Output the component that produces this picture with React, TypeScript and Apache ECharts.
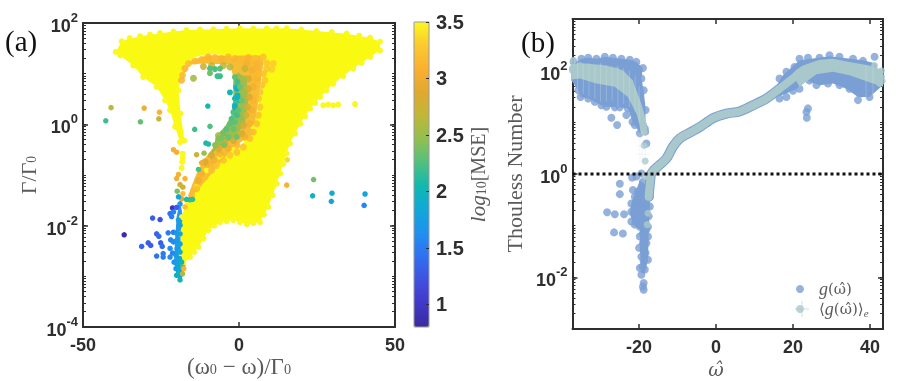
import React, { useEffect, useRef } from "react";
import * as echarts from "echarts";

// ---------- Panel (a): [x, log10(y), log10(MSE)] ----------
const yellowOutline = [
  [-39.5,1.43],[-37.6,1.64],[-31.7,1.74],[-25.3,1.8],[-16.8,1.86],[-8.2,1.875],[0.3,1.895],[8.9,1.89],[15.3,1.895],[24.9,1.84],[34.5,1.79],[42,1.71],[45.2,1.63],[45.2,1.46],[42,1.33],[36.6,1.1],[30.2,0.8],[26,0.54],[22.8,0.31],[19.6,0.01],[16.3,-0.38],[14.2,-0.78],[12.1,-1.17],[9.4,-1.63],[6.7,-1.93],[2.5,-1.97],[-1.8,-1.89],[-6.1,-1.93],[-9.8,-2.09],[-13,-2.42],[-15.7,-2.62],[-17.8,-2.75],[-18.6,-2.55],[-18.8,-2.16],[-18.3,-1.83],[-16.8,-1.5],[-13.6,-1.24],[-10.4,-0.91],[-6.1,-0.64],[-1.8,-0.51],[2.5,-0.32],[4.6,-0.05],[6.7,0.47],[7.8,1],[7.8,1.33],[-1.8,1.36],[-10.4,1.39],[-15.7,1.3],[-18.4,1.03],[-19.4,0.67],[-18.7,0.21],[-17.5,-0.32],[-18.9,-0.35],[-20.5,-0.05],[-22.1,0.28],[-23.7,0.47],[-26.4,0.74],[-30.7,0.93],[-33.9,1.16],[-38.1,1.36],
];
const yellowExtras = [
  [27,0.375],[28.6,0.39],[30.2,0.375],[31.8,0.39],[37.2,0.4],[-18,-0.58],[-18,-0.66],[-18.2,-0.74],[-18.4,-0.86],[-19.4,0.2],[-20.2,0],
  [-35,1.7],[-28.5,1.77],[-21,1.83],[-12.5,1.87],[-4,1.885],[4.6,1.89],[12,1.89],[20,1.87],[29.7,1.82],[38.5,1.75],[39.3,1.21],[33.4,0.95],[28,0.67],[24.4,0.42],[21.2,0.16],[18,-0.18],[15.2,-0.58],[13.2,-0.97],[10.8,-1.4],[8,-1.78],[4.6,-1.95],[0.3,-1.93],[-4,-1.91],[-8,-2],[-11.4,-2.25],[-14.4,-2.52],
];
const bandOrangeOutline = [
  [-18.4,0.84],[-18.1,1.03],[-15.7,1.18],[-11.4,1.2],[-2.9,1.18],[-1.8,0.93],[-1.8,0.47],[-2.4,0.18],[-4.5,-0.05],[-7.2,-0.22],[-8.2,-0.45],[-11.4,-0.71],[-13.6,-0.97],[-15.7,-1.3],[-16.2,-1.48],[-12.5,-1.24],[-1.8,-0.45],[4.6,-0.18],[6.2,0.47],[7.8,1.2],[7.8,1.36],[-10.4,1.36],[-16.2,1.24],
];
const bandGreenOutline = [
  [-0.2,1.03],[2.5,0.87],[3,0.47],[1.9,0.01],[-1.8,-0.28],[-7.2,-0.48],[-9.8,-0.67],[-8.2,-0.45],[-7.2,-0.22],[-4.5,-0.05],[-2.4,0.18],[-1.8,0.47],[-1.8,0.93],
];
const columnOutline = [
  [-18.9,-1.5],[-18,-1.83],[-18.8,-2.16],[-18.6,-2.55],[-17.6,-2.82],[-18.1,-3.01],[-18.9,-3.09],[-20,-2.98],[-20.8,-2.68],[-20.5,-2.29],[-20,-1.83],
];
const bandOuter = [
  [-18.4,0.87,3.1],[-18.1,0.97,3.15],[-17.3,1.1,3.1],[-16.2,1.2,3.2],[-14.1,1.25,3.15],[-12,1.28,3.15],[-9.8,1.33,3.1],[-7.7,1.32,3.15],[-5.6,1.3,3.1],[-3.4,1.33,3.15],[-1.3,1.3,3.1],[0.9,1.28,3.15],[3,1.32,3.1],[5.1,1.3,3.2],[7.8,1.33,3.2],[8.9,1.21,3.25],[11,1.2,3.3],[10.5,1.09,3.3],[8.9,1.1,3.25],[7.8,1,3.2],[8.3,0.87,3.25],[7.3,0.77,3.2],[6.7,0.64,3.2],[6.2,0.51,3.2],[6.7,0.34,3.25],[6.2,0.18,3.2],[5.7,0.01,3.2],[4.6,-0.15,3.2],[3.5,-0.28,3.2],[1.4,-0.45,3.25],[-0.7,-0.55,3.2],[-2.9,-0.61,3.25],[-5,-0.71,3.2],[-7.2,-0.81,3.25],[-8.8,-0.91,3.2],[-10.9,-1.04,3.2],[-12.5,-1.14,3.2],[-13.6,-1.27,3.15],[-15.2,-1.4,3.15],[2.5,1.2,3.05],[5.7,1.1,3.1],[5.7,0.9,3.1],[4.6,0.74,3.05],[4.6,0.47,3.1],[4.1,0.28,3.05],[3.5,0.01,3.05],[1.9,-0.25,3.05],[-0.7,-0.41,3.1],[-3.4,-0.48,3.05],[-6.1,-0.58,3.05],[-8.2,-0.71,3.05],[-10.4,-0.78,3.05],[-12,-0.97,3.05],[-13,-1.11,3.0],[5.7,1.2,3.1],[4.1,1.07,3.05],[6.2,1,3.15],
];
const bandMiddle = [
  [1.9,1.1,2.75],[3,0.9,2.8],[3,0.7,2.8],[3.3,0.54,2.85],[2.7,0.34,2.8],[2.2,0.18,2.75],[1.4,-0.02,2.8],[0.9,-0.18,2.8],[-1.8,-0.32,2.8],[-4.5,-0.38,2.8],[-6.6,-0.48,2.85],[-8.8,-0.61,2.8],[-10.9,-0.74,2.85],[-2.9,1.13,2.65],[-5,1.16,2.7],[-8.8,1.16,2.75],[-11.4,1.14,2.75],[1.4,0.9,2.55],[1.4,0.61,2.5],[0.9,0.28,2.5],[0.3,0.14,2.45],[-1.3,-0.15,2.5],[-6.6,-0.22,2.6],[-14.6,0.91,2.55],
];
const bandInner = [
  [-9.3,1.1,2.25],[-7.7,1.09,2.25],[-6.1,1.1,2.3],[-9.3,1.01,2.35],[-6.9,0.95,2.2],[-6.1,0.95,2.2],[-2.9,0.63,2.05],[-1.3,0.93,2.3],[-0.5,0.84,2.2],[-1,0.74,2.15],[-0.5,0.57,2.05],[-1.3,0.51,2.05],[-0.2,0.47,2.15],[-1.3,0.38,2.1],[-1.8,0.24,2.25],[-0.7,0.18,2.2],[-2.4,0.11,2.25],[-2.9,0.01,2.3],[-4,-0.09,2.3],[-1.8,-0.09,2.35],[-5,-0.18,2.35],[-6.6,-0.28,2.4],[-7.7,-0.41,2.45],[-4.8,-0.41,2.4],[-0.7,-0.25,2.35],[-0.7,0.7,1.95],[-0.5,0.54,1.95],[-1.3,0.34,1.95],[0.3,0.74,2.35],[0.9,0.47,2.35],[-0.2,0.28,2.3],[-1.3,0.05,2.3],[-3.4,-0.25,2.35],[-5.6,-0.28,2.4],
];
const isolatedPoints = [
  [-41,0.33,2.65],[-30.4,0.32,3.0],[-25.5,0.24,3.1],[-25.7,0.11,2.7],[-31.6,0.05,2.3],[-42.7,0.07,2.2],[-10,0.36,2.05],[-14.2,-0.1,2.2],[-9.3,-0.04,2.25],[-10.6,-0.37,2.05],[-9.8,-0.39,2.1],[-21,-0.5,3.05],[-20,-0.55,3.05],[-13.6,-0.6,2.7],[-11.2,-0.57,2.5],[-13,-0.89,2.25],[-12,-0.76,3.0],[15.3,-1.2,3.1],[15.5,-0.7,3.35],[23.9,-1.09,2.35],[23.6,-1.41,1.95],[29.8,-1.36,1.9],[29.6,-1.52,1.85],[40.4,-1.375,1.8],[40.1,-1.6,1.55],
];
const lowerColumn = [
  [-19.4,-0.99,3.1],[-20,-1.07,3.05],[-17.3,-1.07,3.1],[-18.9,-1.19,2.75],[-18,-1.24,2.8],[-19.8,-1.32,2.4],[-18,-1.37,3.2],[-18.4,-1.47,2.9],[-15.7,-1.49,2.2],[-16.8,-1.48,2.1],[-14.9,-1.48,2.15],[-17.3,-1.63,3.2],[-18.9,-1.57,1.7],[-19.4,-1.43,1.8],
  [-21.3,-1.65,0.95],[-20,-1.64,1.3],[-22.1,-1.76,1.45],[-21,-1.73,1.55],[-21.6,-1.82,1.5],[-27.7,-1.85,1.3],[-25.3,-1.88,1.2],[-36.8,-2.18,0.85],[-26.4,-2.16,1.35],[-25.7,-2.21,1.4],[-31.2,-2.41,1.35],[-29.1,-2.34,1.3],[-28.3,-2.39,1.3],[-25.1,-2.34,1.3],[-24.6,-2.41,1.4],[-26.4,-2.6,1.45],[-24.3,-2.55,1.5],[-24.3,-2.62,1.5],[-22.7,-2.14,1.5],[-21,-2.13,1.55],[-21.9,-2.28,1.55],[-21,-2.32,1.6],[-22.1,-2.45,1.6],[-21.3,-2.54,1.55],[-22.1,-2.62,1.6],[-20.8,-2.72,1.65],[-20.2,-2.85,1.7],[-20,-2.98,1.9],
  [-19.4,-1.89,1.8],[-18.9,-1.99,1.75],[-19.8,-2.16,1.7],[-18.9,-2.16,1.8],[-20,-2.29,1.7],[-18.9,-2.36,1.8],[-19.8,-2.45,1.75],[-18.9,-2.52,1.85],[-20.2,-2.58,1.7],[-19.1,-2.65,1.8],[-20,-2.75,1.8],[-18.4,-2.72,2.0],[-19.4,-2.85,1.85],[-18,-2.82,2.2],[-19.4,-2.95,1.95],[-18.9,-3.07,2.05],[-18.1,-2.95,2.6],[-17.7,-2.85,3.1],
];

// ---------- Panel (b): [x, log10(g)] ----------
const leftLobeOutline = [
  [-37.6,2.1],[-35,2.23],[-33.2,2.25],[-31.1,2.23],[-28.9,2.27],[-26.8,2.25],[-24.6,2.23],[-22.4,2.21],[-20.7,2.17],[-19,2.05],[-19.4,1.85],[-18.8,1.62],[-18.3,1.24],[-18.4,0.82],[-19.8,0.79],[-21.1,0.95],[-21.7,1.01],[-22.9,1.27],[-25,1.29],[-28.5,1.3],[-29.8,1.33],[-31.5,1.4],[-33.2,1.46],[-35.2,1.49],[-35.8,1.62],[-37.6,1.81],
];
const rightLobeOutline = [
  [13.9,1.49],[17.4,1.91],[21.7,2.2],[29.5,2.28],[38.2,2.2],[41.6,2.14],[42.9,1.69],[39.9,1.49],[36.9,1.49],[33.9,1.65],[30.4,1.75],[26.9,1.72],[23.5,1.81],[20.9,1.65],[18.3,1.56],[15.7,1.49],
];
const lowerConeOutline = [
  [-19.8,-0.12],[-17.7,-0.24],[-17.2,-0.63],[-17.5,-1.15],[-17.7,-1.66],[-18.5,-1.92],[-19.4,-1.92],[-19.8,-1.41],[-19.8,-1.08],[-21.6,-0.98],[-22.4,-0.76],[-22,-0.57],
];
const tealLeftOutline = [
  [-37.6,2.14],[-33.7,2.14],[-28.5,2.1],[-24.2,2.01],[-21.6,1.81],[-20.3,1.49],[-18.8,1.17],[-17.9,0.85],[-19,0.82],[-20.7,1.17],[-22.9,1.49],[-26.3,1.69],[-31.1,1.75],[-35.4,1.85],[-37.6,1.83],
];
const tealRightOutline = [
  [20,1.91],[22.6,2.1],[26.9,2.21],[30.4,2.23],[34.7,2.17],[39.9,2.1],[43.4,2.01],[43.4,1.69],[40.8,1.75],[34.7,1.91],[30.4,1.98],[26.1,1.93],[21.7,1.69],
];
const bluePoints = [
  [-37,2.17],[-35,2.23],[-33.2,2.25],[-31.1,2.23],[-28.9,2.27],[-26.8,2.25],[-24.6,2.23],[-22.4,2.21],[-20.7,2.17],[-19,2.05],[-19.4,1.85],[-18.8,1.62],[-18.3,1.24],[-19.4,1.36],[-20.9,1.43],[-18.5,0.88],[-18.4,0.82],[-20.3,1.11],[-21.7,1.01],[-21.1,0.95],[-19,0.95],[-19.8,0.79],[-18.1,0.59],[-37.6,1.81],[-35.8,1.62],[-35.2,1.49],[-33.2,1.46],[-31.5,1.4],[-29.8,1.33],[-28.5,1.3],[-27.2,1.09],[-25.7,0.95],[-26.3,1.29],[-25,1.29],[-23.3,1.14],[-22.9,1.27],[-21.6,1.3],
  [-21.8,-0.07],[-25,-0.19],[-25,-0.39],[-28.3,-0.74],[-26.3,-0.78],[-23.9,-0.78],[-26.5,-1.13],[-24.2,-1.15],[-21.6,-0.31],[-21.1,-0.44],[-22,-0.57],[-20.7,-0.57],[-19.8,-0.5],[-22,-0.73],[-21.1,-0.66],[-19.8,-0.66],[-18.5,-0.5],[-22,-0.92],[-20.7,-0.89],[-21.1,-0.98],[-19.4,-0.82],[-18.3,-0.76],[-19.8,-1.02],[-18.8,-0.95],[-19,-1.15],[-18.1,-1.08],[-20,-1.43],[-19,-1.34],[-18.1,-1.34],[-19.4,-1.6],[-18.3,-1.53],[-18.8,-1.69],[-19.8,-1.82],[-18.5,-1.85],[-19.4,-1.95],[-18.8,-2.11],[-19,-2.18],[-18.8,-2.24],[-19.4,0.01],[-19,-0.15],[-20.7,-0.05],[-17.7,-0.24],[-17.2,-0.44],[-17.2,-0.63],[-17.5,-0.82],[-17.7,-1.02],[-17.7,-1.21],[-17.7,-1.66],[-19,-0.69],[-18.1,-0.57],[-19.1,-0.37],[-18.3,-0.31],[-20.3,-0.34],[-19.8,-1.21],[-18.8,-1.47],[-19.1,-1.79],
  [16.5,1.85],[18.3,1.98],[20.4,2.07],[21.7,2.23],[23.9,2.25],[26.9,2.25],[29.5,2.3],[32.1,2.27],[35.6,2.23],[38.2,2.19],[41.2,2.27],[21.7,1.65],[20,1.61],[18.3,1.49],[16.5,1.46],[23.9,1.27],[23.5,1.2],[23.6,1.09],[24.3,1.81],[26.1,1.72],[29.1,1.75],[30.4,1.88],[32.1,1.72],[34.7,1.65],[36.9,1.43],[37.7,1.56],[39.9,1.49],[41.6,1.75],
];
const ribbonRight = [
  [-17.5,-0.44],[-17.1,-0.12],[-16.8,0.01],[-15.5,0.12],[-12.9,0.3],[-11.2,0.53],[-9.4,0.69],[-6.8,0.8],[-4.2,0.91],[-0.8,1.08],[2.7,1.17],[6.1,1.21],[9.6,1.33],[13.1,1.46],[16.5,1.65],[20,1.85],[22.6,2.01],[26.1,2.08],[30.4,2.12],[34.7,2.05],[39,1.98],[42.5,1.88],
];
const ribbonLeft = [[-37.3,2.04],[-35.4,1.99],[-32.8,1.94],[-28.5,1.93],[-25,1.87],[-22.4,1.72],[-20.7,1.43],[-19.4,1.11],[-18.7,0.82]];
const tealPoints = [
  [-18.7,0.55],[-18.4,0.25],[-18.4,-0.05],[-17.5,-0.44],[-17.7,-0.76],[-17.9,-0.98],[-17.2,-0.24],[-37.1,2.2],[-37.3,2],[-35.4,2.1],[-30,2.05],[-26,2],[41.2,2.1],[43.2,1.8],[43,2],[42.5,1.75],
];
const errorBarsV = [
  [-36,1.6,2.15],[-34.5,1.55,2.15],[-33,1.5,2.15],[-31.5,1.45,2.1],[-30,1.4,2.15],[-28.5,1.4,2.1],[-27,1.42,2.1],[-25.5,1.3,2.1],[-24,1.35,2.05],[-22.5,1.3,2],[-21,1.2,1.9],[-20,1,1.7],[-19.8,0.2,0.8],[-19.2,0.15,0.85],[-18.4,0.1,0.6],[39,1.45,2.1],[40.8,1.5,2.2],
];
const errorBarsH = [[-20.8,-17.2,0.38],[-20.5,-17.5,0.55]];
const unityLine = [[-37.3,0],[43.4,0]];
const xTicksB = [-20, 0, 20, 40];
const colorTicks = [1, 1.5, 2, 2.5, 3, 3.5];
const parula = ["#3a2a9e","#4038c8","#4050e0","#3070f0","#2090f0","#10a8d8","#10b8b0","#50c080","#90c050","#bfb838","#e0a830","#fbb030","#fbc930","#fbf820"];

const toPts = (a: number[][]) => a.map((p) => [p[0], Math.pow(10, p[1]), ...p.slice(2)]);
const toVal = (a: number[][], v: number) => a.map((p) => [p[0], Math.pow(10, p[1]), v]);

const majorsA = [1e-4, 1e-2, 1, 100];
const majorsB = [1e-2, 1, 100];
const decadesB = [1e-3, 1e-2, 0.1, 1, 10, 100, 1000];
const decadesA = [1e-4, 1e-3, 1e-2, 0.1, 1, 10, 100];
const minors = (d: number[]) => {
  const out: number[] = [];
  d.slice(0, -1).forEach((b) => [2,3,4,5,6,7,8,9,10].forEach((m) => out.push(b * m)));
  return out;
};

const INK = "#2e2e2e";
const GRAY = "#5a5a5a";
const SERIF = "'Liberation Serif', serif";
const MATH = "'DejaVu Serif', serif";
const SANS = "'Liberation Sans', sans-serif";

function logAxes(grid: number, min: number, max: number, labels: number[], ticks: number[]) {
  const base = { type: "log", logBase: 10, gridIndex: grid, min, max, splitLine: { show: false }, minorTick: { show: false }, minorSplitLine: { show: false } };
  const fmt = (v: number) => `{b|10}{s|${Math.round(Math.log10(v))}}`;
  const rich = { b: { fontSize: 18, fontWeight: "bold", fontFamily: SANS, color: INK, verticalAlign: "bottom", lineHeight: 24 }, s: { fontSize: 13, fontWeight: "bold", fontFamily: SANS, color: INK, verticalAlign: "top", lineHeight: 24 } };
  const major = (position: string, withLabels: boolean) => ({
    ...base, position,
    axisLine: { show: true, onZero: false, lineStyle: { color: INK, width: 2 } },
    axisTick: { show: true, inside: true, length: 5, customValues: labels, lineStyle: { color: INK, width: 1.5 } },
    axisLabel: withLabels ? { show: true, margin: 5, customValues: labels, formatter: fmt, rich, fontWeight: "bold", fontSize: 18, fontFamily: SANS, color: INK } : { show: false },
  });
  const minor = (position: string) => ({
    ...base, position,
    axisLine: { show: false, onZero: false },
    axisTick: { show: true, inside: true, length: 3, customValues: ticks, lineStyle: { color: INK, width: 1 } },
    axisLabel: { show: false },
  });
  return [major("left", true), minor("left"), major("right", false), minor("right")];
}

function xAxes(grid: number, min: number, max: number, ticks: number[]) {
  const base = { type: "value", gridIndex: grid, min, max, splitLine: { show: false }, axisLine: { show: true, onZero: false, lineStyle: { color: INK, width: 2 } } };
  const tick = { show: true, inside: true, length: 5, customValues: ticks, lineStyle: { color: INK, width: 1.5 } };
  return [
    { ...base, position: "bottom", axisTick: tick, axisLabel: { show: true, customValues: ticks, margin: 9, hideOverlap: false, fontSize: 18, fontWeight: "bold", fontFamily: SANS, color: INK, formatter: (v: number) => String(v) } },
    { ...base, position: "top", axisTick: tick, axisLabel: { show: false } },
  ];
}

const polygonRender = (pts: number[][], fill: string) => (params: any, api: any) => {
  if (params.dataIndex !== 0) return null;
  return { type: "polygon", shape: { points: pts.map((p) => api.coord([p[0], p[1]])) }, style: { fill } };
};
const polygonSeries = (xi: number, yi: number, arr: number[][], fill: string, z = 2) => {
  const pts = toPts(arr);
  return { type: "custom", coordinateSystem: "cartesian2d", xAxisIndex: xi, yAxisIndex: yi, data: pts, encode: { x: 0, y: 1 }, silent: true, z, renderItem: polygonRender(pts, fill) };
};
const scatterA = (data: number[][], size = 6, opacity = 1) => ({ type: "scatter", xAxisIndex: 0, yAxisIndex: 0, data, symbolSize: size, silent: true, itemStyle: { opacity }, encode: { x: 0, y: 1 } });

const BLUE = "#7a9fd4";
const TEAL = "#a9c8cb";
const BAR = "rgba(214,230,230,0.3)";
const nameRich = {
  sub: { fontSize: 14, fontFamily: SERIF, color: GRAY, verticalAlign: "bottom", lineHeight: 20, padding: [5, 0, 0, 0] },
  it: { fontSize: 21, fontStyle: "italic", fontFamily: SERIF, color: GRAY, lineHeight: 20 },
};
const nameStyle = { fontSize: 20, fontFamily: SERIF, color: GRAY, lineHeight: 20, rich: nameRich };
const graphicRich = (size: number) => ({ sub: { fontSize: size * 0.62, fontFamily: SERIF, fill: GRAY, verticalAlign: "bottom", lineHeight: 20, padding: [5, 0, 0, 0] } });
const axisTitle = (text: string, x: number, y: number, size: number, rotation = 0) => ({
  type: "text", x, y, rotation, silent: true,
  style: { text, fontFamily: SERIF, fontSize: size, fill: GRAY, align: "center", verticalAlign: "middle", lineHeight: 20, rich: graphicRich(size) },
});

export default function App() {
  const ref = useRef<HTMLDivElement>(null);
  useEffect(() => {
    const chart = echarts.init(ref.current!, undefined, { renderer: "svg" });
    const seriesA: any[] = [
      polygonSeries(0, 0, yellowOutline, "#f9f911"),
      scatterA(toVal(yellowOutline, 3.5), 6),
      scatterA(toVal(yellowExtras, 3.5), 6),
      polygonSeries(0, 0, bandOrangeOutline, "#f5bc34"),
      polygonSeries(0, 0, bandGreenOutline, "#9cbd52"),
      polygonSeries(0, 0, columnOutline, "#2a96e8"),
      scatterA(toPts(bandOuter), 7, 0.85),
      scatterA(toPts(bandMiddle), 7, 0.9),
      scatterA(toPts(bandInner), 6),
      scatterA(toPts(isolatedPoints), 5.5),
      scatterA(toPts(lowerColumn), 5.5),
    ];
    const valueSeriesIdx = seriesA.map((s, i) => (s.type === "scatter" ? i : -1)).filter((i) => i >= 0);
    const errV = toPts(errorBarsV).map((p) => [p[0], p[1], Math.pow(10, p[2])]);
    const errH = errorBarsH.map((p) => [p[0], p[1], Math.pow(10, p[2])]);
    const seriesB: any[] = [
      polygonSeries(2, 4, leftLobeOutline, BLUE),
      polygonSeries(2, 4, rightLobeOutline, BLUE),
      polygonSeries(2, 4, lowerConeOutline, BLUE),
      { name: "g(ω̂)", type: "scatter", xAxisIndex: 2, yAxisIndex: 4, data: toPts(bluePoints), symbolSize: 8, silent: true, itemStyle: { color: BLUE }, z: 3 },
      { type: "line", xAxisIndex: 2, yAxisIndex: 4, data: toPts(ribbonRight), showSymbol: false, smooth: 0.3, silent: true, lineStyle: { color: BLUE, width: 10, cap: "round", join: "round" }, z: 3 },
      polygonSeries(2, 4, tealLeftOutline, TEAL, 5),
      polygonSeries(2, 4, tealRightOutline, TEAL, 5),
      { type: "custom", xAxisIndex: 2, yAxisIndex: 4, data: errV, encode: { x: 0, y: [1, 2] }, silent: true, z: 6,
        renderItem: (_: any, api: any) => {
          const a = api.coord([api.value(0), api.value(1)]); const b = api.coord([api.value(0), api.value(2)]);
          return { type: "line", shape: { x1: a[0], y1: a[1], x2: b[0], y2: b[1] }, style: { stroke: BAR, lineWidth: 1 } };
        } },
      { type: "custom", xAxisIndex: 2, yAxisIndex: 4, data: errH, encode: { x: [0, 1], y: 2 }, silent: true, z: 6,
        renderItem: (_: any, api: any) => {
          const a = api.coord([api.value(0), api.value(2)]); const b = api.coord([api.value(1), api.value(2)]);
          return { type: "line", shape: { x1: a[0], y1: a[1], x2: b[0], y2: b[1] }, style: { stroke: BAR, lineWidth: 1 } };
        } },
      { type: "line", xAxisIndex: 2, yAxisIndex: 4, data: toPts(ribbonRight), showSymbol: false, smooth: 0.3, silent: true, lineStyle: { color: TEAL, width: 8, cap: "round", join: "round" }, z: 5 },
      { type: "line", xAxisIndex: 2, yAxisIndex: 4, data: toPts(ribbonLeft), showSymbol: false, smooth: 0.3, silent: true, lineStyle: { color: TEAL, width: 7, cap: "round", join: "round" }, z: 5 },
      { name: "⟨g(ω̂)⟩e", type: "scatter", xAxisIndex: 2, yAxisIndex: 4, data: toPts(tealPoints), symbolSize: 7, silent: true, itemStyle: { color: TEAL }, z: 5 },
      { type: "line", xAxisIndex: 2, yAxisIndex: 4, data: toPts(unityLine), showSymbol: false, silent: true, lineStyle: { color: "#111", width: 3, type: [3, 3] }, z: 7 },
    ];
    chart.setOption({
      animation: false,
      backgroundColor: "#fff",
      grid: [
        { left: 83, top: 23, width: 312, height: 304, outerBoundsMode: "none" },
        { left: 572.5, top: 19, width: 310.5, height: 310, outerBoundsMode: "none" },
        { left: 414, top: 22, width: 15, height: 305, outerBoundsMode: "none", show: true, borderColor: "#999", borderWidth: 1, backgroundColor: "transparent", z: 10 },
      ],
      xAxis: [
        ...xAxes(0, -50, 50, [-50, 0, 50]),
        ...xAxes(1, -37.3, 43.4, xTicksB),
        { type: "value", gridIndex: 2, show: false, min: 0, max: 1 },
      ],
      yAxis: [
        ...logAxes(0, 1e-4, 100, majorsA, minors(decadesA)),
        ...logAxes(1, 1e-3, 1000, majorsB, minors(decadesB)),
        { type: "value", gridIndex: 2, position: "right", min: 0.8, max: 3.5, splitLine: { show: false }, axisLine: { show: false, onZero: false }, z: 10,
          axisTick: { show: true, inside: true, length: 3, customValues: colorTicks, lineStyle: { color: INK, width: 1 } },
          axisLabel: { show: true, customValues: colorTicks, margin: 7, fontSize: 20, fontWeight: "bold", fontFamily: SANS, color: INK, formatter: (v: number) => String(v) },
          name: "{it|log}{sub|10}[MSE]", nameLocation: "middle", nameRotate: 90, nameGap: 33, nameTextStyle: nameStyle },
      ],
      visualMap: [{ type: "continuous", min: 0.8, max: 3.5, seriesIndex: valueSeriesIdx, dimension: 2, inRange: { color: parula }, calculable: false, show: true, realtime: false, left: 414, top: 22, padding: 0, itemWidth: 15, itemHeight: 305, text: null, showLabel: false, z: 1 }],
      legend: { show: true, orient: "vertical", left: 796, top: 280, itemWidth: 12, itemHeight: 8, itemGap: 2, padding: 0, selectedMode: false, icon: "circle",
        data: ["g(ω̂)", "⟨g(ω̂)⟩e"],
        formatter: (n: string) => n === "g(ω̂)" ? "{f|g}{n|(ω̂)}" : "{p|⟨}{it|g}{n|(ω̂)⟩}{sub|e}",
        textStyle: { fontFamily: MATH, fontSize: 15, color: GRAY, rich: {
          f: { fontFamily: SERIF, fontStyle: "italic", fontSize: 18, color: GRAY, padding: [0, 0, 0, 8] },
          p: { fontFamily: MATH, fontSize: 15, color: GRAY, padding: [0, 0, 0, 8] },
          it: { fontFamily: SERIF, fontStyle: "italic", fontSize: 18, color: GRAY },
          n: { fontFamily: MATH, fontSize: 15, color: GRAY },
          sub: { fontFamily: SERIF, fontStyle: "italic", fontSize: 11, color: GRAY, verticalAlign: "bottom" } } } },
      graphic: [
        { type: "text", left: 5, top: 26, style: { text: "(a)", font: "29px 'Liberation Serif'", fill: "#111" } },
        { type: "text", left: 521, top: 27, style: { text: "(b)", font: "29px 'Liberation Serif'", fill: "#111" } },
        { type: "line", shape: { x1: 795, y1: 309, x2: 809, y2: 309 }, style: { stroke: "#cfe0e0", lineWidth: 1 } },
        { type: "line", shape: { x1: 802, y1: 301, x2: 802, y2: 317 }, style: { stroke: "#cfe0e0", lineWidth: 1 } },
        axisTitle("(ω{sub|0} − ω)/Γ{sub|0}", 239, 366, 23),
        axisTitle("Γ/Γ{sub|0}", 28, 175, 22, Math.PI / 2),
        axisTitle("Thouless Number", 514, 174, 22, Math.PI / 2),
        { type: "text", x: 716, y: 369, silent: true, style: { text: "ω̂", fontFamily: MATH, fontStyle: "italic", fontSize: 19, fill: GRAY, align: "center", verticalAlign: "middle", lineHeight: 20 } },
      ],
      series: [...seriesA, ...seriesB],
    });
    return () => chart.dispose();
  }, []);
  return <div ref={ref} style={{ position: "absolute", left: 0, top: 0, width: 899, height: 381, background: "#fff", filter: "blur(0.5px)" }} />;
}
